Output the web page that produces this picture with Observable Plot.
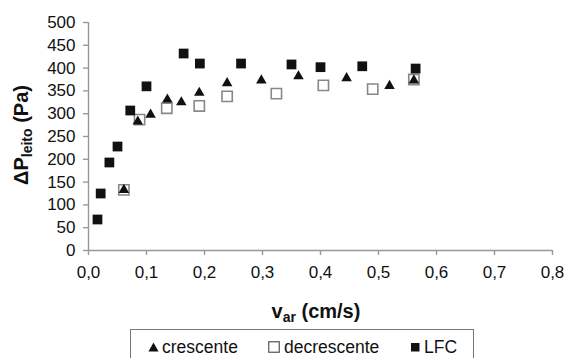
<!DOCTYPE html>
<html><head><meta charset="utf-8">
<script src="https://cdn.jsdelivr.net/npm/d3@7"></script>
<script src="https://cdn.jsdelivr.net/npm/@observablehq/plot@0.6"></script>
<style>
body{margin:0;background:#fff;font-family:"Liberation Sans",Arial,sans-serif;}
#wrap{position:relative;width:566px;height:358px;overflow:hidden;}
#legend{position:absolute;left:130px;top:329px;width:344px;height:40px;border:1px solid #777;box-sizing:border-box;font-size:17.5px;color:#111;}
#legend .sym{position:absolute;top:12px;}
#legend .txt{position:absolute;top:7px;white-space:nowrap;line-height:20px;}
</style></head>
<body><div id="wrap"><div id="chart"></div><div id="legend"></div></div>
<script>
const crescenteX = [0.061,0.085,0.107,0.136,0.160,0.191,0.239,0.298,0.362,0.445,0.519,0.561];
const crescenteY = [133,283,298,331,325,346,367,373,382,378,361,373];
const decrescenteX = [0.061,0.088,0.135,0.191,0.239,0.324,0.405,0.490,0.561];
const decrescenteY = [133,287,312,317,338,344,362,354,375];
const lfcX = [0.0155,0.021,0.036,0.050,0.072,0.100,0.164,0.192,0.263,0.350,0.400,0.472,0.564];
const lfcY = [68,125,193,228,307,360,432,410,410,408,402,404,399];
const xTicks = [0,0.1,0.2,0.3,0.4,0.5,0.6,0.7,0.8];
const yTicks = [0,50,100,150,200,250,300,350,400,450,500];
const seriesNames = ["crescente","decrescente","LFC"];

const cres = crescenteX.map((x,i)=>({x,y:crescenteY[i]}));
const decr = decrescenteX.map((x,i)=>({x,y:decrescenteY[i]}));
const lfc = lfcX.map((x,i)=>({x,y:lfcY[i]}));

const fmt = d => d.toFixed(1).replace(".", ",");

const plot = Plot.plot({
  width: 566, height: 328,
  marginLeft: 88, marginRight: 14, marginTop: 22, marginBottom: 78,
  style: {fontFamily: '"Liberation Sans", Arial, sans-serif', fontSize: "17px", color: "#111", background: "#fff"},
  x: {domain: [0, 0.8], label: null},
  y: {domain: [0, 500], label: null},
  marks: [
    Plot.ruleY([0], {stroke: "#999", strokeWidth: 1.4}),
    Plot.ruleX([0], {stroke: "#999", strokeWidth: 1.4}),
    Plot.axisX({ticks: xTicks, tickFormat: fmt, tickSize: 5, tickPadding: 10, stroke: "#999", strokeWidth: 1.4, color: "#111", fontSize: 17, label: null}),
    Plot.axisY({ticks: yTicks, tickSize: 5, tickPadding: 8, stroke: "#999", strokeWidth: 1.4, color: "#111", fontSize: 17, label: null}),
    Plot.dot(decr, {x: "x", y: "y", symbol: "square", r: 5.8, fill: "#fff", stroke: "#888", strokeWidth: 1.6}),
    Plot.dot(lfc, {x: "x", y: "y", symbol: "square", r: 5.5, fill: "#111", stroke: "none"}),
    Plot.dot(cres, {x: "x", y: "y", symbol: "triangle", r: 3.9, fill: "#111", stroke: "none"})
  ]
});
document.getElementById("chart").appendChild(plot);

const svg = d3.select(plot);
// X axis title with subscript
const xt = svg.append("text")
  .attr("x", 316).attr("y", 318).attr("text-anchor", "middle")
  .attr("font-size", 20).attr("font-weight", "bold").attr("fill", "#111");
xt.append("tspan").text("v");
xt.append("tspan").attr("dy", 4).attr("font-size", 14).text("ar");
xt.append("tspan").attr("dy", -4).text(" (cm/s)");
// Y axis title with subscript
const yt = svg.append("text")
  .attr("transform", "translate(28,135) rotate(-90)").attr("text-anchor", "middle")
  .attr("font-size", 20).attr("font-weight", "bold").attr("fill", "#111");
yt.append("tspan").text("ΔP");
yt.append("tspan").attr("dy", 4).attr("font-size", 14).text("leito");
yt.append("tspan").attr("dy", -4).text(" (Pa)");

// Legend (HTML below the chart)
const leg = document.getElementById("legend");
const items = [
  {name: seriesNames[0], symLeft: 17, txtLeft: 31, sym: '<svg width="11" height="10" style="display:block"><path d="M5.5,0.5L10.5,9.5H0.5Z" fill="#111"/></svg>'},
  {name: seriesNames[1], symLeft: 137, txtLeft: 153, sym: '<svg width="12" height="12" style="display:block;margin-top:-1px"><rect x="0.75" y="0.75" width="10.5" height="10.5" fill="#fff" stroke="#555" stroke-width="1.2"/></svg>'},
  {name: seriesNames[2], symLeft: 279, txtLeft: 293, sym: '<svg width="10" height="10" style="display:block"><rect x="1" y="1" width="8.5" height="8.5" fill="#111"/></svg>'}
];
items.forEach(it => {
  const s = document.createElement("span");
  s.className = "sym"; s.style.left = it.symLeft + "px";
  s.innerHTML = it.sym;
  leg.appendChild(s);
  const t = document.createElement("span");
  t.className = "txt"; t.style.left = it.txtLeft + "px";
  t.textContent = it.name;
  leg.appendChild(t);
});
</script></body></html>
